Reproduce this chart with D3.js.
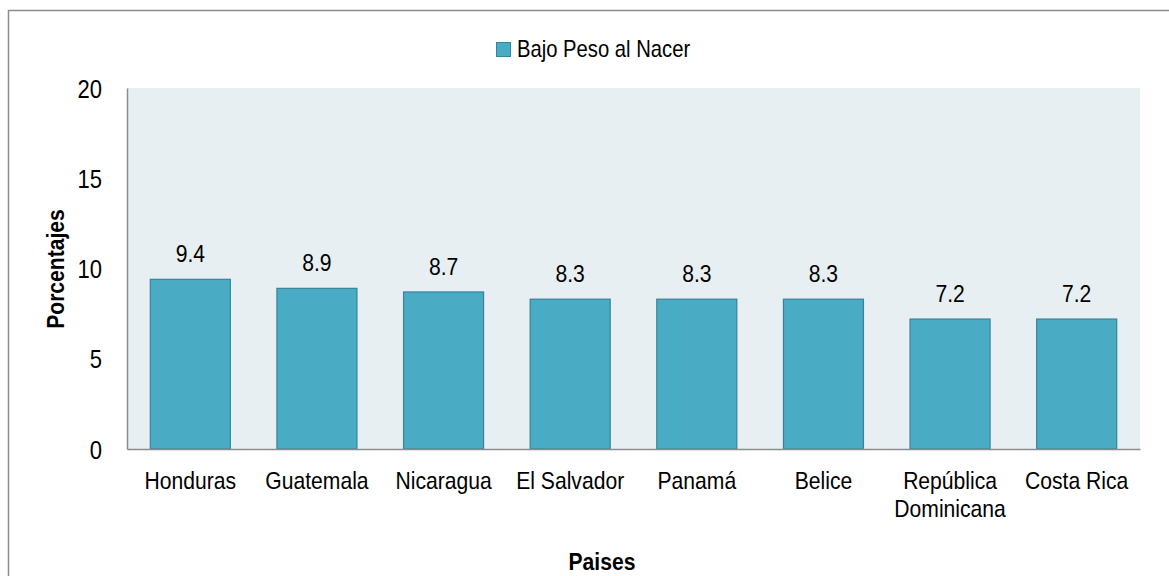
<!DOCTYPE html>
<html>
<head>
<meta charset="utf-8">
<script src="https://cdn.jsdelivr.net/npm/d3@7"></script>
<style>
  body { margin: 0; background: #fff; }
  svg text { font-family: "Liberation Sans", Arial, sans-serif; fill: #000; }
</style>
</head>
<body>
<svg id="chart" width="1169" height="576"></svg>
<script>
// data
var paises = ["Honduras", "Guatemala", "Nicaragua", "El Salvador", "Panamá", "Belice", "República Dominicana", "Costa Rica"];
var valores = [9.4, 8.9, 8.7, 8.3, 8.3, 8.3, 7.2, 7.2];
var yTicks = [0, 5, 10, 15, 20];
var serieNombre = "Bajo Peso al Nacer";

var svg = d3.select("#chart");
var narrow = 0.88;   // fake a condensed face by squeezing horizontally

// text helper: anchored at (x,y), squeezed in x
function addText(x, y, str, size, anchor, bold, rot) {
    var tr = "translate(" + x + "," + y + ")" + (rot ? " rotate(" + rot + ")" : "") + " scale(" + narrow + ",1)";
    return svg.append("text")
        .attr("transform", tr)
        .attr("text-anchor", anchor || "middle")
        .style("font-size", size + "px")
        .style("font-weight", bold ? "bold" : "normal")
        .text(str);
}

// outer frame
svg.append("rect")
    .attr("x", 8.5).attr("y", 10.5)
    .attr("width", 1180).attr("height", 600)
    .attr("fill", "none")
    .attr("stroke", "#8c8c8c")
    .attr("stroke-width", 1.5);

var plotL = 127, plotR = 1140, plotT = 88, plotB = 449;

var x = d3.scaleBand()
    .domain(paises)
    .range([plotL, plotR])
    .paddingInner(0.368)
    .paddingOuter(0.184);

var y = d3.scaleLinear()
    .domain([0, 20])
    .range([plotB, plotT]);

// plot background
svg.append("rect")
    .attr("x", plotL).attr("y", plotT)
    .attr("width", plotR - plotL).attr("height", plotB - plotT)
    .attr("fill", "#e8eff2");

// bars
svg.selectAll(".bar")
    .data(valores)
    .enter().append("rect")
    .attr("class", "bar")
    .attr("x", function(d, i) { return x(paises[i]); })
    .attr("y", function(d) { return y(d); })
    .attr("width", x.bandwidth())
    .attr("height", function(d) { return y(0) - y(d); })
    .attr("fill", "#4aabc5")
    .attr("stroke", "#37839a")
    .attr("stroke-width", 1.2);

// value labels
valores.forEach(function(d, i) {
    addText(x(paises[i]) + x.bandwidth() / 2, y(d) - 17, d.toFixed(1), 24);
});

// y axis (line from d3, labels squeezed)
var gy = svg.append("g")
    .attr("transform", "translate(" + plotL + ",0)")
    .call(d3.axisLeft(y).tickValues(yTicks).tickSize(0).tickPadding(25));
gy.select(".domain").attr("stroke", "#8c8c8c").attr("stroke-width", 1.5);
gy.selectAll(".tick text")
    .attr("x", -25 / narrow)
    .attr("dy", "0.36em")
    .attr("transform", "scale(" + narrow + ",1)")
    .style("font-size", "25px")
    .style("font-family", "'Liberation Sans', Arial, sans-serif");

// x axis
var gx = svg.append("g")
    .attr("transform", "translate(0," + plotB + ")")
    .call(d3.axisBottom(x).tickSize(0).tickFormat(""));
gx.select(".domain").attr("stroke", "#8c8c8c").attr("stroke-width", 1.5);

// category labels (two lines where needed)
paises.forEach(function(p) {
    var lines = p === "República Dominicana" ? ["República", "Dominicana"] : [p];
    lines.forEach(function(l, k) {
        addText(x(p) + x.bandwidth() / 2, 489 + k * 28, l, 24);
    });
});

// axis titles
addText(64, 269, "Porcentajes", 24, "middle", true, -90);
addText(602, 570, "Paises", 24, "middle", true);

// legend
svg.append("rect")
    .attr("x", 496.5).attr("y", 42.5)
    .attr("width", 14).attr("height", 14)
    .attr("fill", "#4aabc5")
    .attr("stroke", "#37839a");
addText(517, 57, serieNombre, 23, "start");
</script>
</body>
</html>
